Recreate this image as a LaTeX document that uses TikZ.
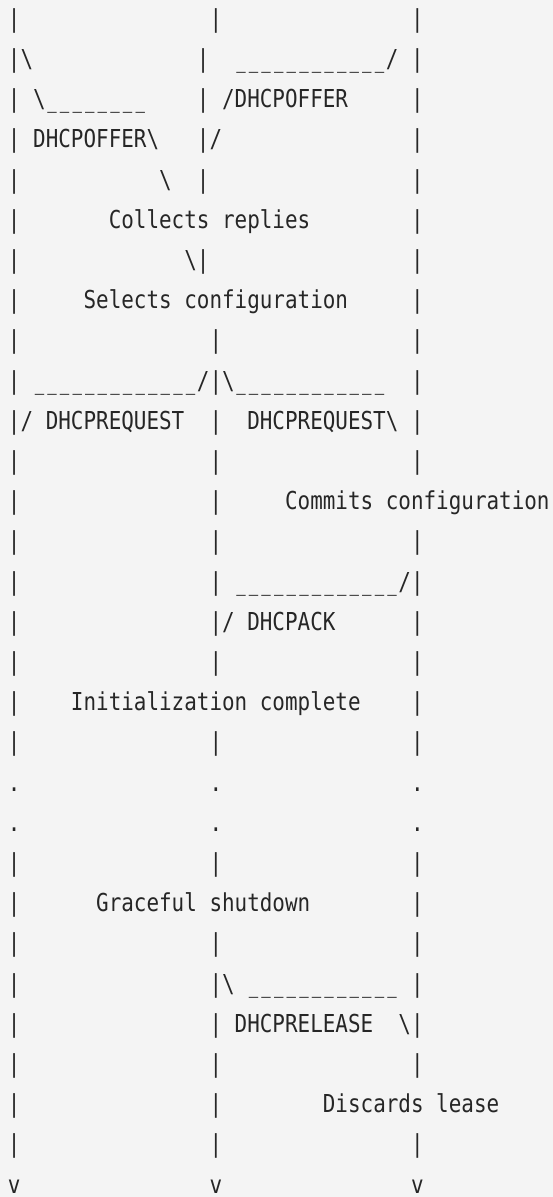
\documentclass[tikz,border=0pt]{standalone}
\usepackage{fontspec}
\usepackage{xcolor}
\usepackage{tikz}
\usetikzlibrary{positioning}
\newfontfamily\asciifont[FakeStretch=0.847, WordSpace={1,0,0}]{DejaVu Sans Mono}
\definecolor{paper}{HTML}{F4F4F4}
\definecolor{ink}{HTML}{262626}
% n blank columns / n underscores
\newcommand{\gap}[1]{\hspace*{#1\fontcharwd\font`M}}
\newcommand{\wire}[1]{\foreach \k in {1,...,#1}{\makebox[\fontcharwd\font`M]{\scalebox{0.75}[1]{\_}}}}
\newcommand{\bs}{\textbackslash}
\newcommand{\lanes}{|\gap{15}|\gap{15}|}
\newcommand{\pitch}{40.2pt}
\tikzset{
    ascii/.style={anchor=base west, inner sep=0pt, text=ink, font=\asciifont\fontsize{24.7}{30}\selectfont},
    sheet/.style={fill=paper, draw=none}
}

\begin{document}
\begin{tikzpicture}[x=1pt, y=1pt]
    \fill[sheet] (0,0) rectangle (553,-1197);
    \useasboundingbox (0,0) rectangle (553,-1197);

    \node[ascii] (L1) at (7.8,-27.2) {\lanes};
    \node[ascii] (L2) at ([yshift=-\pitch]L1.base west) {|\bs\gap{13}|\gap{2}\wire{12}/\gap{1}|};
    \node[ascii] (L3) at ([yshift=-\pitch]L2.base west) {|\gap{1}\bs\wire{8}\gap{4}|\gap{1}/DHCPOFFER\gap{5}|};
    \node[ascii] (L4) at ([yshift=-\pitch]L3.base west) {|\gap{1}DHCPOFFER\bs\gap{3}|/\gap{15}|};
    \node[ascii] (L5) at ([yshift=-\pitch]L4.base west) {|\gap{11}\bs\gap{2}|\gap{16}|};
    \node[ascii] (L6) at ([yshift=-\pitch]L5.base west) {|\gap{7}Collects replies\gap{8}|};
    \node[ascii] (L7) at ([yshift=-\pitch]L6.base west) {|\gap{13}\bs|\gap{16}|};
    \node[ascii] (L8) at ([yshift=-\pitch]L7.base west) {|\gap{5}Selects configuration\gap{5}|};
    \node[ascii] (L9) at ([yshift=-\pitch]L8.base west) {\lanes};
    \node[ascii] (L10) at ([yshift=-\pitch]L9.base west) {|\gap{1}\wire{13}/|\bs\wire{12}\gap{2}|};
    \node[ascii] (L11) at ([yshift=-\pitch]L10.base west) {|/\gap{1}DHCPREQUEST\gap{2}|\gap{2}DHCPREQUEST\bs\gap{1}|};
    \node[ascii] (L12) at ([yshift=-\pitch]L11.base west) {\lanes};
    \node[ascii] (L13) at ([yshift=-\pitch]L12.base west) {|\gap{15}|\gap{5}Commits configuration};
    \node[ascii] (L14) at ([yshift=-\pitch]L13.base west) {\lanes};
    \node[ascii] (L15) at ([yshift=-\pitch]L14.base west) {|\gap{15}|\gap{1}\wire{13}/|};
    \node[ascii] (L16) at ([yshift=-\pitch]L15.base west) {|\gap{15}|/\gap{1}DHCPACK\gap{6}|};
    \node[ascii] (L17) at ([yshift=-\pitch]L16.base west) {\lanes};
    \node[ascii] (L18) at ([yshift=-\pitch]L17.base west) {|\gap{4}Initialization complete\gap{4}|};
    \node[ascii] (L19) at ([yshift=-\pitch]L18.base west) {\lanes};
    \node[ascii] (L20) at ([yshift=-\pitch]L19.base west) {.\gap{15}.\gap{15}.};
    \node[ascii] (L21) at ([yshift=-\pitch]L20.base west) {.\gap{15}.\gap{15}.};
    \node[ascii] (L22) at ([yshift=-\pitch]L21.base west) {\lanes};
    \node[ascii] (L23) at ([yshift=-\pitch]L22.base west) {|\gap{6}Graceful shutdown\gap{8}|};
    \node[ascii] (L24) at ([yshift=-\pitch]L23.base west) {\lanes};
    \node[ascii] (L25) at ([yshift=-\pitch]L24.base west) {|\gap{15}|\bs\gap{1}\wire{12}\gap{1}|};
    \node[ascii] (L26) at ([yshift=-\pitch]L25.base west) {|\gap{15}|\gap{1}DHCPRELEASE\gap{2}\bs|};
    \node[ascii] (L27) at ([yshift=-\pitch]L26.base west) {\lanes};
    \node[ascii] (L28) at ([yshift=-\pitch]L27.base west) {|\gap{15}|\gap{8}Discards lease};
    \node[ascii] (L29) at ([yshift=-\pitch]L28.base west) {\lanes};
    \node[ascii] (L30) at ([yshift=-\pitch]L29.base west) {v\gap{15}v\gap{15}v};
\end{tikzpicture}
\end{document}
